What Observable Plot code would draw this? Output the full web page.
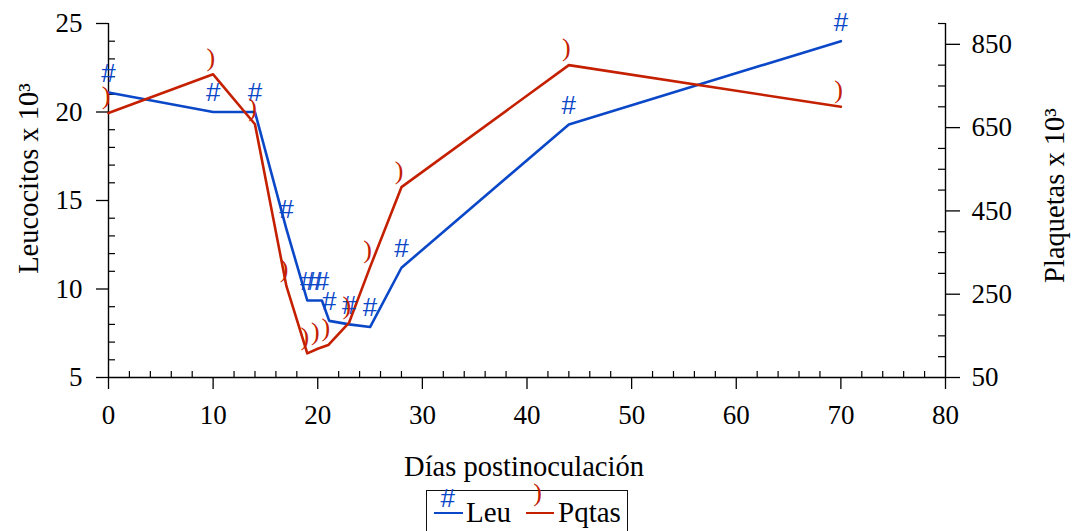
<!DOCTYPE html>
<html><head><meta charset="utf-8">
<script src="https://cdn.jsdelivr.net/npm/d3@7"></script>
<script src="https://cdn.jsdelivr.net/npm/@observablehq/plot@0.6"></script>
<style>
html,body{margin:0;padding:0;background:#fff;overflow:hidden;width:1075px;height:531px;}
#chart{position:relative;width:1075px;height:531px;}
#legend{position:absolute;left:426px;top:490px;width:202px;height:60px;border:1.3px solid #111;box-sizing:border-box;font-family:"Liberation Serif",serif;font-size:29px;}
#legend .ln{position:absolute;height:0;border-top:2.6px solid;top:20.5px;}
#legend .mk{position:absolute;line-height:1;transform:translate(-50%,-50%);}
#legend .lab{position:absolute;line-height:1;top:7.4px;color:#000;}
</style></head>
<body><div id="chart"></div>
<script>
// ---- data ----
const leuDays   = [0, 10, 14, 17, 19, 19.7, 20.4, 21.1, 23, 25, 28, 44, 70];
const leuValues = [21.1, 20.0, 20.0, 13.4, 9.35, 9.35, 9.35, 8.2, 8.0, 7.85, 11.2, 19.3, 24.0];
const pqDays    = [0, 10, 14, 17, 19, 20, 21, 23, 25, 28, 44, 70];
const pqValues  = [685, 778, 658, 270, 108, 119, 128, 182, 315, 507, 800, 700];
const xTicks    = [0, 10, 20, 30, 40, 50, 60, 70, 80];
const leuTicks  = [5, 10, 15, 20, 25];
const pqTicks   = [50, 250, 450, 650, 850];
const seriesNames   = ["Leu", "Pqtas"];
const seriesMarkers = ["#", ")"];
const seriesColors  = ["#0b48c8", "#c42000"];
const xLabel = "Días postinoculación";
const leuLabel = "Leucocitos x 10³";
const pqLabel = "Plaquetas x 10³";

const xDomain = [0, 80], leuDomain = [5, 25], pqDomain = [50, 900];
const pqToLeu = v => leuDomain[0] + (v - pqDomain[0]) * (leuDomain[1] - leuDomain[0]) / (pqDomain[1] - pqDomain[0]);
const leuToPq = v => pqDomain[0] + (v - leuDomain[0]) * (pqDomain[1] - pqDomain[0]) / (leuDomain[1] - leuDomain[0]);

const leu = leuDays.map((d, i) => ({day: d, v: leuValues[i]}));
const pq = pqDays.map((d, i) => ({day: d, v: pqToLeu(pqValues[i])}));

const W = 1075, H = 486, mL = 108, mR = 130, mT = 23, mB = 109;
const pw = W - mL - mR, ph = H - mT - mB;

const xMinor = d3.range(2, 80, 2).filter(d => d % 10 !== 0);
const leuMinor = d3.range(6, 25, 1).filter(d => d % 5 !== 0);
const pqMinor = d3.range(100, 901, 50).filter(d => !pqTicks.includes(d)).map(pqToLeu);

const serif = "Liberation Serif";
const chart = Plot.plot({
  width: W, height: H,
  marginLeft: mL, marginRight: mR, marginTop: mT, marginBottom: mB,
  style: {fontFamily: serif, fontSize: "27px", background: "#fff", color: "#000"},
  x: {domain: xDomain},
  y: {domain: leuDomain},
  marks: [
    Plot.tickY(leuMinor, {y: d => d, insetRight: pw - 7, stroke: "#000", strokeWidth: 1.2}),
    Plot.tickY(pqMinor, {y: d => d, insetLeft: pw - 7, stroke: "#000", strokeWidth: 1.2}),
    Plot.tickX(xMinor, {x: d => d, insetTop: ph - 6, stroke: "#000", strokeWidth: 1.2}),
    Plot.axisY({anchor: "left", ticks: leuTicks, tickSize: 12, tickPadding: 14, label: null, strokeWidth: 1.3, fontSize: 27}),
    Plot.axisY({anchor: "right", ticks: pqTicks.map(pqToLeu), tickFormat: d => Math.round(leuToPq(d)), tickSize: 14, tickPadding: 12, label: null, strokeWidth: 1.3, fontSize: 27}),
    Plot.axisX({ticks: xTicks, tickSize: 12, tickPadding: 15, label: null, strokeWidth: 1.3, fontSize: 27}),
    Plot.ruleX([xDomain[0], xDomain[1]], {stroke: "#000", strokeWidth: 1.4}),
    Plot.ruleY([leuDomain[0]], {stroke: "#000", strokeWidth: 1.4}),
    Plot.line(leu, {x: "day", y: "v", stroke: seriesColors[0], strokeWidth: 2.6}),
    Plot.line(pq, {x: "day", y: "v", stroke: seriesColors[1], strokeWidth: 2.6}),
    Plot.text(leu, {x: "day", y: "v", text: () => seriesMarkers[0], dy: -19, fill: seriesColors[0], fontFamily: "Liberation Sans", fontSize: 26, lineAnchor: "middle"}),
    Plot.text(pq, {x: "day", y: "v", text: () => seriesMarkers[1], dy: -17, dx: -2.4, fill: seriesColors[1], fontFamily: serif, fontSize: 26, lineAnchor: "middle"}),
    Plot.text([leuLabel], {text: d => d, frameAnchor: "left", textAnchor: "middle", rotate: -90, dx: -71, dy: -22, lineAnchor: "bottom", fontSize: 28.5, fill: "#000"}),
    Plot.text([pqLabel], {text: d => d, frameAnchor: "right", textAnchor: "middle", rotate: -90, dx: 118, dy: -5, lineAnchor: "bottom", fontSize: 28.5, fill: "#000"}),
    Plot.text([xLabel], {text: d => d, frameAnchor: "bottom", textAnchor: "middle", dy: 98, dx: -3, lineAnchor: "bottom", fontSize: 28.5, fill: "#000"})
  ]
});
const host = document.getElementById("chart");
host.appendChild(chart);

// legend
const lg = document.createElement("div");
lg.id = "legend";
const lay = [{line: 7, w: 29, mk: 20.7, mky: 6.7, lab: 39}, {line: 99, w: 28, mk: 110.7, mky: 1.7, lab: 131}];
seriesNames.forEach((name, i) => {
  const L = lay[i];
  const ln = document.createElement("span"); ln.className = "ln";
  ln.style.left = L.line + "px"; ln.style.width = L.w + "px"; ln.style.borderTopColor = seriesColors[i];
  const mk = document.createElement("span"); mk.className = "mk";
  mk.textContent = seriesMarkers[i]; mk.style.color = seriesColors[i];
  mk.style.left = L.mk + "px"; mk.style.top = L.mky + "px";
  mk.style.fontFamily = i === 0 ? "Liberation Sans" : serif; mk.style.fontSize = "26px";
  const lab = document.createElement("span"); lab.className = "lab";
  lab.textContent = name; lab.style.left = L.lab + "px";
  lg.append(ln, mk, lab);
});
host.appendChild(lg);
</script>
</body></html>
